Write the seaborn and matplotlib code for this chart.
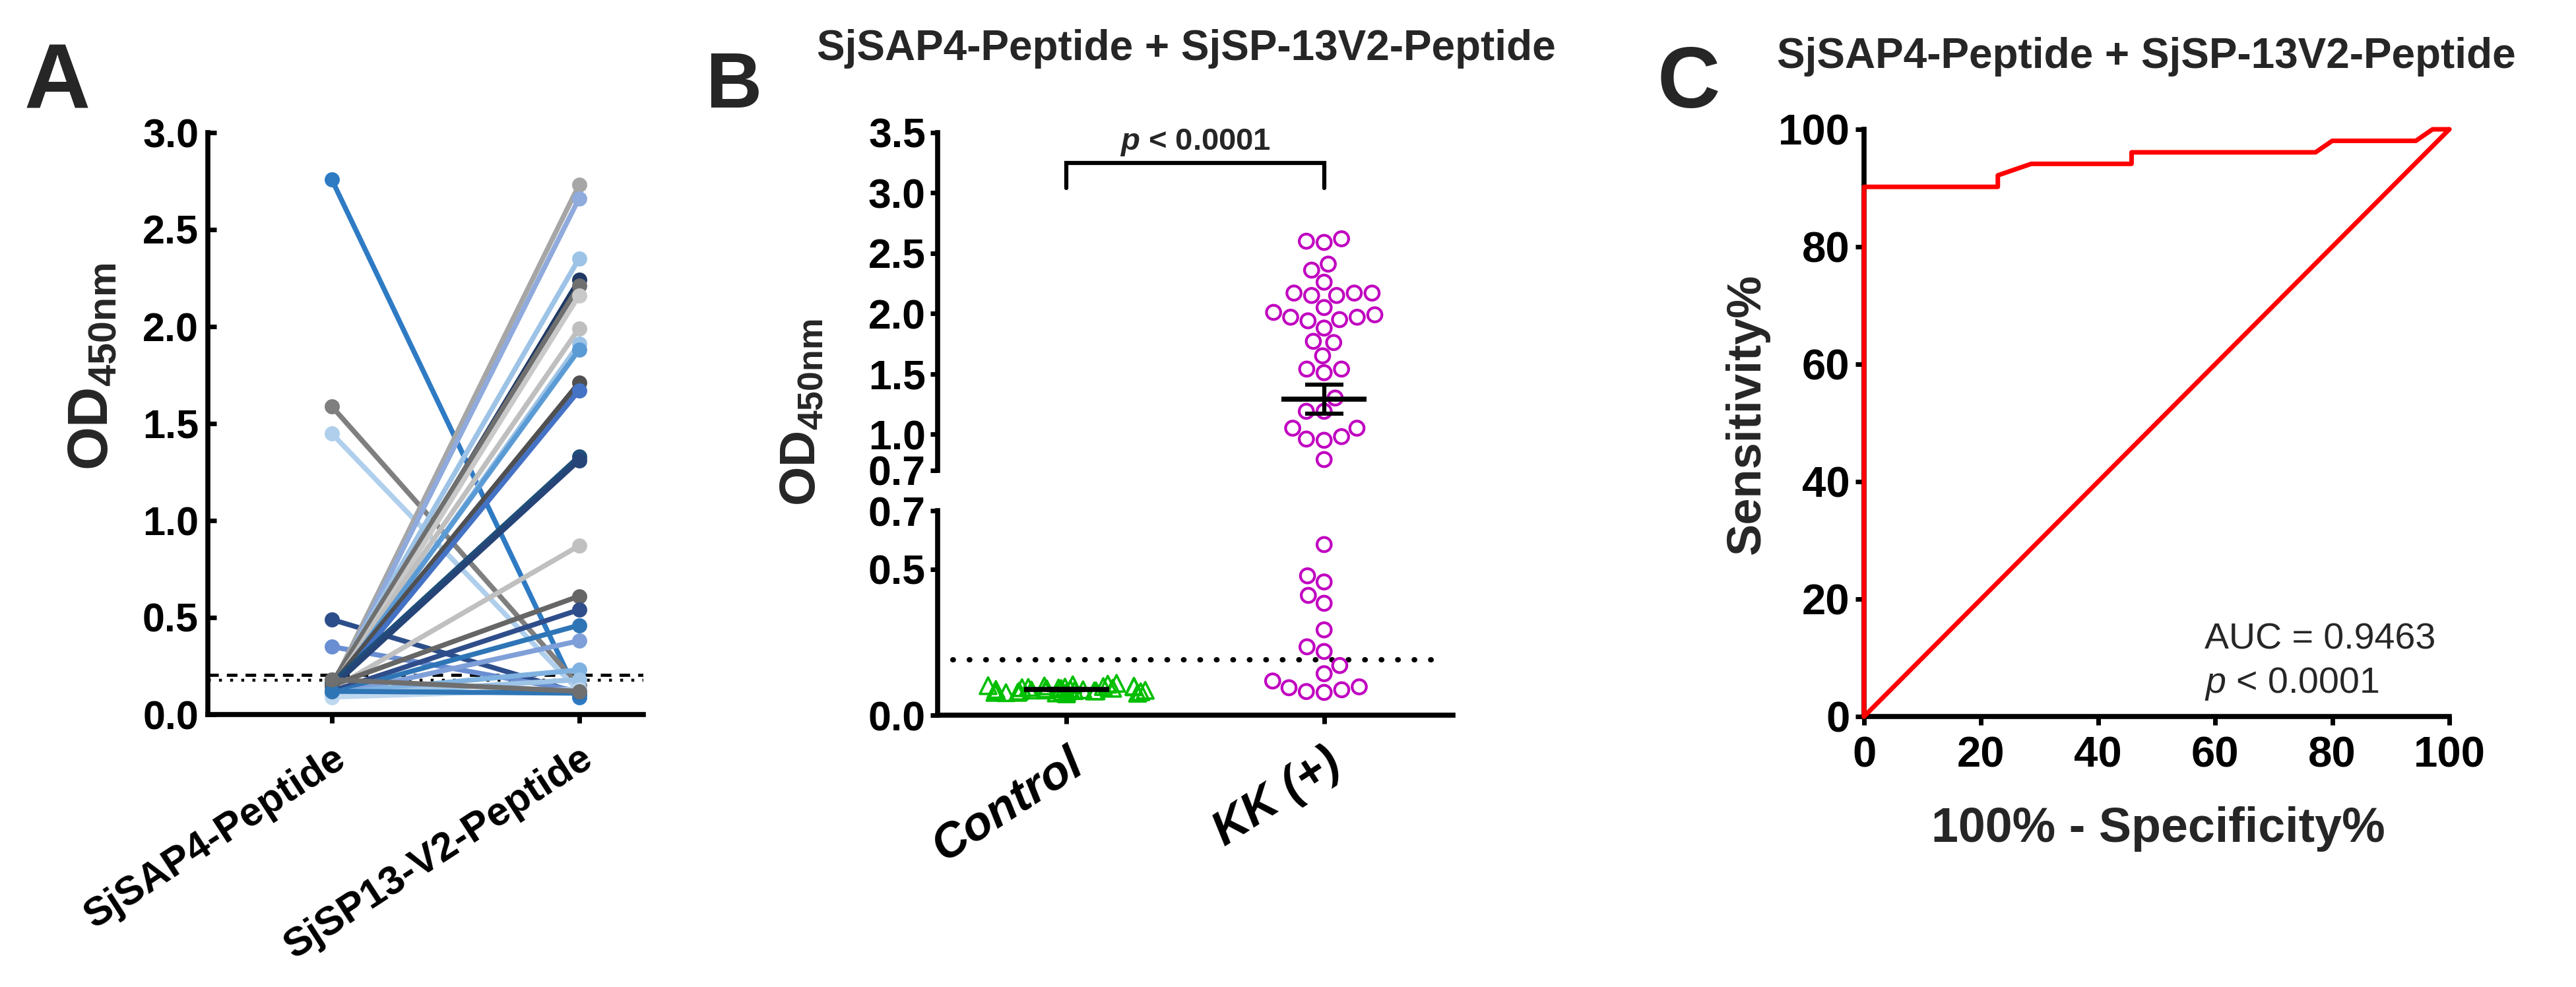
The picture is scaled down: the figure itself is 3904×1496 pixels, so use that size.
import numpy as np
import pandas as pd
import matplotlib
matplotlib.use("Agg")
import matplotlib.pyplot as plt
import seaborn as sns

# ---------------- data ----------------
# Panel A: paired OD450nm readings of each serum against the two peptides
pair_conditions = ["SjSAP4-Peptide", "SjSP13-V2-Peptide"]
sap4_od = [2.76, 1.59, 1.45, 0.49, 0.35, 0.14, 0.12, 0.15, 0.13, 0.16, 0.12, 0.14, 0.11, 0.13,
           0.15, 0.12, 0.16, 0.14, 0.13, 0.15, 0.12, 0.11, 0.10, 0.11, 0.10, 0.09, 0.12, 0.18]
sp13_od = [0.09, 0.15, 0.12, 0.11, 0.12, 2.73, 2.66, 2.35, 2.24, 2.21, 2.16, 1.99, 1.91, 1.88,
           1.71, 1.67, 1.33, 1.31, 0.87, 0.61, 0.54, 0.46, 0.38, 0.23, 0.18, 0.13, 0.11, 0.12]
pair_colors = ["#2E7BC4", "#7F7F7F", "#AFCFEC", "#2C4E8A", "#6A8ED2", "#A6A6A6", "#8FAADC",
               "#9DC3E6", "#1F3864", "#6F6F6F", "#C9C9C9", "#BFBFBF", "#9DC3E6", "#5B9BD5",
               "#505050", "#4472C4", "#1F4E79", "#264478", "#C0C0C0", "#666666", "#2F4D8A",
               "#2E75B6", "#7F9FD8", "#7FB2E0", "#9DC3E6", "#BDD7EE", "#2E75B6", "#6F6F6F"]
cutoff_a_dashed = 0.204
cutoff_a_dotted = 0.178

# Panel B: combined peptides, control vs KK(+)
groups = ["Control", "KK (+)"]
control_od = [0.081, 0.092, 0.076, 0.098, 0.085, 0.104, 0.079, 0.088, 0.095, 0.073, 0.083, 0.109,
              0.090, 0.078, 0.086, 0.097, 0.082, 0.093, 0.075, 0.101, 0.087, 0.080, 0.094, 0.084,
              0.099, 0.077, 0.089, 0.106, 0.083, 0.091, 0.078, 0.096, 0.086, 0.081, 0.100]
kk_od = [2.59, 2.62, 2.60, 2.41, 2.36, 2.26, 2.17, 2.15, 2.15, 2.17, 2.17, 2.05, 2.01, 1.99,
         1.94, 1.95, 1.97, 1.97, 1.88, 1.77, 1.76, 1.65, 1.51, 1.54, 1.54, 1.19, 1.30, 1.19,
         1.05, 1.05, 0.96, 0.98, 0.95, 0.79,
         0.584, 0.477, 0.456, 0.41, 0.383, 0.292, 0.234, 0.218, 0.17, 0.142, 0.117, 0.081,
         0.087, 0.097, 0.078, 0.094]
cutoff_b = 0.19
break_value = 0.7
p_text_b = r"$\mathit{p}$ < 0.0001"

# Panel C: ROC curve
roc_fpr = [0, 0, 22.86, 22.86, 28.57, 45.71, 45.71, 77.14, 80.00, 94.29, 97.14, 100]
roc_tpr = [0, 90.2, 90.2, 92.16, 94.12, 94.12, 96.08, 96.08, 98.04, 98.04, 100, 100]
chance_x = [0, 100]
chance_y = [0, 100]
auc_text = "AUC = 0.9463"
p_text_c = r"$\mathsf{p}$ < 0.0001"
title_bc = "SjSAP4-Peptide + SjSP-13V2-Peptide"

# ---------------- style ----------------
sns.set_style("ticks")
plt.rcParams["font.family"] = ["Liberation Sans", "DejaVu Sans"]
plt.rcParams["font.weight"] = "bold"
plt.rcParams["mathtext.fontset"] = "custom"
plt.rcParams["mathtext.rm"] = "Liberation Sans"
plt.rcParams["mathtext.bf"] = "Liberation Sans:bold"
plt.rcParams["mathtext.it"] = "Liberation Sans:style=italic:weight=bold"
plt.rcParams["mathtext.sf"] = "Liberation Sans:style=italic:weight=normal"
plt.rcParams["axes.linewidth"] = 5.5
plt.rcParams["xtick.major.width"] = 5.0
plt.rcParams["ytick.major.width"] = 5.0
plt.rcParams["xtick.color"] = "black"
plt.rcParams["ytick.color"] = "black"
plt.rcParams["axes.edgecolor"] = "black"

W, H = 3905, 1496
fig = plt.figure(figsize=(W / 100, H / 100), dpi=100)


def ax_px(x0, y0, x1, y1):
    return fig.add_axes([x0 / W, 1 - y1 / H, (x1 - x0) / W, (y1 - y0) / H])


def fx(x):
    return x / W


def fy(y):
    return 1 - y / H


# ---------------- Panel A ----------------
axA = ax_px(315, 201, 975, 1083)
n = len(sap4_od)
dfA = pd.DataFrame({
    "sample": [f"S{i + 1}" for i in range(n) for _ in range(2)],
    "peptide": pair_conditions * n,
    "od": [v for pair in zip(sap4_od, sp13_od) for v in pair],
})
sns.lineplot(data=dfA, x="peptide", y="od", hue="sample", palette=pair_colors,
             marker="o", markersize=16.5, markeredgewidth=0, linewidth=5.5,
             estimator=None, sort=False, legend=False, ax=axA)
axA.axhline(cutoff_a_dashed, color="black", lw=3.4, ls=(0, (3.4, 2.6)), zorder=1)
axA.axhline(cutoff_a_dotted, color="black", lw=3.2, ls=(0, (1, 2.8)), zorder=1)
axA.set_xlim(-0.5, 1.26)
axA.set_ylim(0, 3.0)
axA.set_yticks(np.arange(0, 3.01, 0.5))
axA.set_yticklabels([f"{v:.1f}" for v in np.arange(0, 3.01, 0.5)])
axA.set_xticks([0, 1])
axA.set_xticklabels(pair_conditions, rotation=33, ha="right", rotation_mode="anchor")
axA.tick_params(axis="y", direction="in", length=9, labelsize=44, pad=10)
axA.tick_params(axis="x", direction="out", length=9.5, labelsize=44, pad=18)
axA.set_xlabel("")
axA.set_ylabel("")
sns.despine(ax=axA)
fig.text(fx(141), fy(556), r"$\mathbf{OD}_{\mathbf{450nm}}$", rotation=90,
         ha="center", va="center", fontsize=61)
fig.text(fx(37), fy(165), "A", fontsize=100, fontweight="bold", ha="left", va="baseline")

# ---------------- Panel B ----------------
axBu = ax_px(1421, 201, 2202, 713)
axBl = ax_px(1421, 774, 2202, 1084)
dfC = pd.DataFrame({"group": groups[0], "od": control_od})
dfK = pd.DataFrame({"group": groups[1], "od": kk_od})
magenta = "#C000C0"
green = "#00BE00"

# upper segment
nb = len(axBu.collections)
sns.swarmplot(data=dfK[dfK.od >= break_value], x="group", y="od", order=groups,
              color=magenta, size=15.5, linewidth=3.0, ax=axBu, warn_thresh=1)
for c in axBu.collections[nb:]:
    c.set_facecolor("none")
    c.set_edgecolor(magenta)
    c.set_linewidth(3.0)

# lower segment
nb = len(axBl.collections)
sns.swarmplot(data=dfK[dfK.od < break_value], x="group", y="od", order=groups,
              color=magenta, size=15.5, linewidth=3.0, ax=axBl, warn_thresh=1)
for c in axBl.collections[nb:]:
    c.set_facecolor("none")
    c.set_edgecolor(magenta)
    c.set_linewidth(3.0)
np.random.seed(7)
nb = len(axBl.collections)
sns.stripplot(data=dfC, x="group", y="od", order=groups, marker="^", jitter=0.32,
              color=green, size=18, linewidth=2.6, ax=axBl)
for c in axBl.collections[nb:]:
    c.set_facecolor("none")
    c.set_edgecolor(green)
    c.set_linewidth(2.6)

# mean +/- SEM
kk_arr = np.array(kk_od)
c_arr = np.array(control_od)
kk_mean, kk_sem = kk_arr.mean(), kk_arr.std(ddof=1) / np.sqrt(len(kk_arr))
c_mean, c_sem = c_arr.mean(), c_arr.std(ddof=1) / np.sqrt(len(c_arr))
axBu.hlines(kk_mean, 1 - 0.165, 1 + 0.165, color="black", lw=5.5, zorder=5)
axBu.errorbar(1, kk_mean, yerr=kk_sem, color="black", lw=4.5, capsize=21, capthick=4.5, zorder=5)
axBl.hlines(c_mean, -0.165, 0.165, color="black", lw=5.5, zorder=5)
axBl.errorbar(0, c_mean, yerr=c_sem, color="black", lw=4.5, capsize=21, capthick=4.5, zorder=5)

axBl.plot([-0.44, 1.45], [cutoff_b, cutoff_b], color="black", lw=5.8,
          ls=(0, (0.1, 3)), dash_capstyle="round", zorder=1)

# bracket and p text
axBu.plot([0, 0, 1, 1], [3.04, 3.25, 3.25, 3.04], color="black", lw=4.5,
          solid_joinstyle="miter", clip_on=False)
axBu.text(0.5, 3.36, p_text_b, ha="center", va="baseline", fontsize=34, fontweight="bold")

for ax in (axBu, axBl):
    ax.set_xlim(-0.5, 1.5)
    ax.set_xlabel("")
    ax.set_ylabel("")
axBu.set_ylim(break_value, 3.5)
upper_ticks = [0.7, 1.0, 1.5, 2.0, 2.5, 3.0, 3.5]
axBu.set_yticks(upper_ticks)
axBu.set_yticklabels([f"{v:.1f}" for v in upper_ticks])
axBu.tick_params(axis="y", direction="out", length=8, labelsize=45, pad=5)
axBu.set_xticks([])
for s in ("top", "right", "bottom"):
    axBu.spines[s].set_visible(False)
axBl.set_ylim(0, break_value)
lower_ticks = [0.0, 0.5, 0.7]
axBl.set_yticks(lower_ticks)
axBl.set_yticklabels([f"{v:.1f}" for v in lower_ticks])
axBl.tick_params(axis="y", direction="out", length=8, labelsize=45, pad=5)
axBl.set_xticks([0, 1])
axBl.set_xticklabels(groups, rotation=33, ha="right", rotation_mode="anchor",
                     fontstyle="italic", fontweight="bold")
axBl.tick_params(axis="x", direction="out", length=9.5, labelsize=52, pad=18)
sns.despine(ax=axBl)

fig.text(fx(1216), fy(625), r"$\mathbf{OD}_{\mathbf{450nm}}$", rotation=90,
         ha="center", va="center", fontsize=55)
fig.text(fx(1798), fy(91), title_bc, ha="center", va="baseline", fontsize=46, fontweight="bold")
fig.text(fx(1069), fy(163), "B", fontsize=85, fontweight="bold", ha="left", va="baseline")

# ---------------- Panel C ----------------
axC = ax_px(2825, 196, 3712, 1086)
sns.lineplot(x=roc_fpr, y=roc_tpr, sort=False, estimator=None, color="#FF0000",
             linewidth=5, ax=axC, clip_on=False, zorder=4)
sns.lineplot(x=chance_x, y=chance_y, sort=False, estimator=None, color="#FF0000",
             linewidth=5, ax=axC, clip_on=False, zorder=4)
axC.set_xlim(0, 100)
axC.set_ylim(0, 100)
axC.set_xticks(np.arange(0, 101, 20))
axC.set_yticks(np.arange(0, 101, 20))
axC.tick_params(axis="both", direction="out", length=9.5, labelsize=47)
axC.tick_params(axis="x", pad=12)
axC.tick_params(axis="y", pad=6)
axC.set_xlabel("")
axC.set_ylabel("")
sns.despine(ax=axC)
fig.text(fx(3341), fy(984), auc_text, ha="left", va="baseline", fontsize=40, fontweight="normal")
fig.text(fx(3341), fy(1050), p_text_c, ha="left", va="baseline", fontsize=40, fontweight="normal")
fig.text(fx(2648), fy(627), "Sensitivity%", rotation=90, ha="center", va="center",
         fontsize=52, fontweight="bold")
fig.text(fx(3271), fy(1276), "100% - Specificity%", ha="center", va="baseline",
         fontsize=53, fontweight="bold")
fig.text(fx(3253), fy(103), title_bc, ha="center", va="baseline", fontsize=46, fontweight="bold")
fig.text(fx(2512), fy(163), "C", fontsize=95, fontweight="bold", ha="left", va="baseline")

fig.savefig("out.png", dpi=100, facecolor="white")
